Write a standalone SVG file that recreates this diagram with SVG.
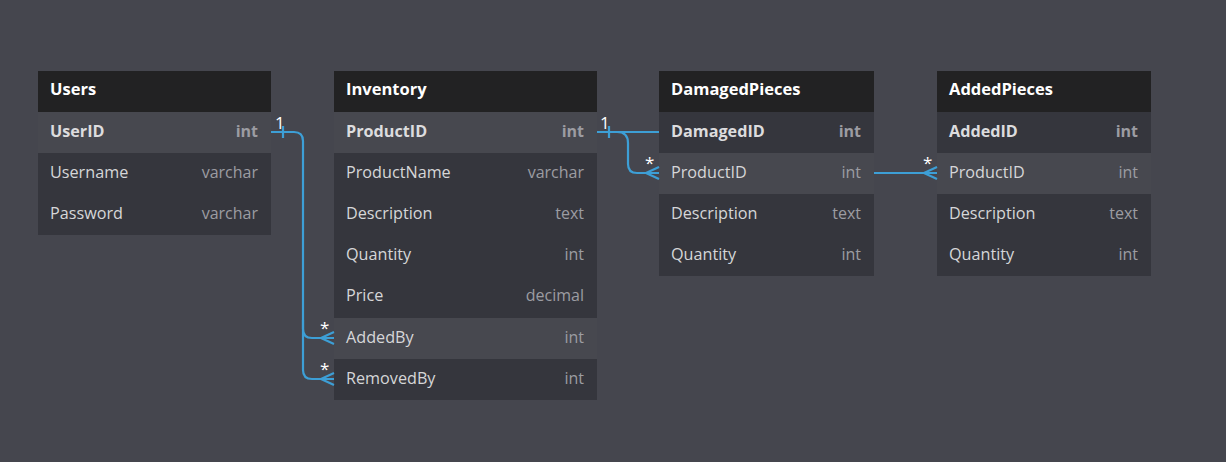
<svg xmlns="http://www.w3.org/2000/svg" width="1226" height="462" viewBox="0 0 1226 462">
<defs>
<style>
.bg{fill:#45464e}
.hdr{fill:#222223}
.row{fill:#35363d}
.hl{fill:#47484f}
.title{font-family:"Open Sans","Noto Sans",sans-serif;font-size:16.5px;font-weight:700;fill:#ffffff}
.pk{font-family:"Open Sans","Noto Sans",sans-serif;font-size:16.2px;font-weight:700;fill:#dcdcde}
.fld{font-family:"Open Sans","Noto Sans",sans-serif;font-size:16.2px;fill:#d6d6d8}
.typ{font-family:"Open Sans","Noto Sans",sans-serif;font-size:16px;fill:#9c9ca2;text-anchor:end}
.typb{font-family:"Open Sans","Noto Sans",sans-serif;font-size:16px;font-weight:700;fill:#9c9ca2;text-anchor:end}
.ln{fill:none;stroke:#3d9fd6;stroke-width:2.2}
.lbl{font-family:"Open Sans","Noto Sans",sans-serif;font-size:17px;fill:#ffffff}
</style>
</defs>
<rect class="bg" x="0" y="0" width="1226" height="462"/>

<g id="users">
<rect class="hdr" x="38" y="71" width="233" height="41"/>
<text class="title" x="50" y="95">Users</text>
<rect class="hl" x="38" y="112" width="233" height="41"/>
<text class="pk" x="50" y="137">UserID</text><text class="typb" x="258" y="137">int</text>
<rect class="row" x="38" y="153" width="233" height="82"/>
<text class="fld" x="50" y="178">Username</text><text class="typ" x="258" y="178">varchar</text>
<text class="fld" x="50" y="219">Password</text><text class="typ" x="258" y="219">varchar</text>
</g>

<g id="inventory">
<rect class="hdr" x="334" y="71" width="263" height="41"/>
<text class="title" x="346" y="95">Inventory</text>
<rect class="hl" x="334" y="112" width="263" height="41"/>
<text class="pk" x="346" y="137">ProductID</text><text class="typb" x="584" y="137">int</text>
<rect class="row" x="334" y="153" width="263" height="165"/>
<text class="fld" x="346" y="178">ProductName</text><text class="typ" x="584" y="178">varchar</text>
<text class="fld" x="346" y="219">Description</text><text class="typ" x="584" y="219">text</text>
<text class="fld" x="346" y="260">Quantity</text><text class="typ" x="584" y="260">int</text>
<text class="fld" x="346" y="301">Price</text><text class="typ" x="584" y="301">decimal</text>
<rect class="hl" x="334" y="318" width="263" height="41"/>
<text class="fld" x="346" y="343">AddedBy</text><text class="typ" x="584" y="343">int</text>
<rect class="row" x="334" y="359" width="263" height="41"/>
<text class="fld" x="346" y="384">RemovedBy</text><text class="typ" x="584" y="384">int</text>
</g>

<g id="damagedpieces">
<rect class="hdr" x="659" y="71" width="215" height="41"/>
<text class="title" x="671" y="95">DamagedPieces</text>
<rect class="row" x="659" y="112" width="215" height="41"/>
<text class="pk" x="671" y="137">DamagedID</text><text class="typb" x="861" y="137">int</text>
<rect class="hl" x="659" y="153" width="215" height="41"/>
<text class="fld" x="671" y="178">ProductID</text><text class="typ" x="861" y="178">int</text>
<rect class="row" x="659" y="194" width="215" height="82"/>
<text class="fld" x="671" y="219">Description</text><text class="typ" x="861" y="219">text</text>
<text class="fld" x="671" y="260">Quantity</text><text class="typ" x="861" y="260">int</text>
</g>

<g id="addedpieces">
<rect class="hdr" x="937" y="71" width="214" height="41"/>
<text class="title" x="949" y="95">AddedPieces</text>
<rect class="row" x="937" y="112" width="214" height="41"/>
<text class="pk" x="949" y="137">AddedID</text><text class="typb" x="1138" y="137">int</text>
<rect class="hl" x="937" y="153" width="214" height="41"/>
<text class="fld" x="949" y="178">ProductID</text><text class="typ" x="1138" y="178">int</text>
<rect class="row" x="937" y="194" width="214" height="82"/>
<text class="fld" x="949" y="219">Description</text><text class="typ" x="1138" y="219">text</text>
<text class="fld" x="949" y="260">Quantity</text><text class="typ" x="1138" y="260">int</text>
</g>

<g id="connectors">
<path class="ln" d="M271 132 H294 Q303 132 303 141 V329 Q303 338 312 338 H334"/>
<path class="ln" d="M303 320 V370 Q303 379 312 379 H334"/>
<path class="ln" d="M283 126 V138"/>
<path class="ln" d="M321 338 L334 332 M321 338 L334 344 M321 338 H334"/>
<path class="ln" d="M321 379 L334 373 M321 379 L334 385 M321 379 H334"/>
<text class="lbl" x="275" y="129">1</text>
<text class="lbl" x="320" y="334">*</text>
<text class="lbl" x="320" y="375">*</text>

<path class="ln" d="M597 132 H659"/>
<path class="ln" d="M617 132 Q628 132 628 143 V164 Q628 173 637 173 H659"/>
<path class="ln" d="M609 126 V138"/>
<path class="ln" d="M646 173 L659 167 M646 173 L659 179"/>
<text class="lbl" x="600" y="129">1</text>
<text class="lbl" x="645" y="169">*</text>

<path class="ln" d="M874 173 H937"/>
<path class="ln" d="M924 173 L937 167 M924 173 L937 179"/>
<text class="lbl" x="923" y="169">*</text>
</g>
</svg>
